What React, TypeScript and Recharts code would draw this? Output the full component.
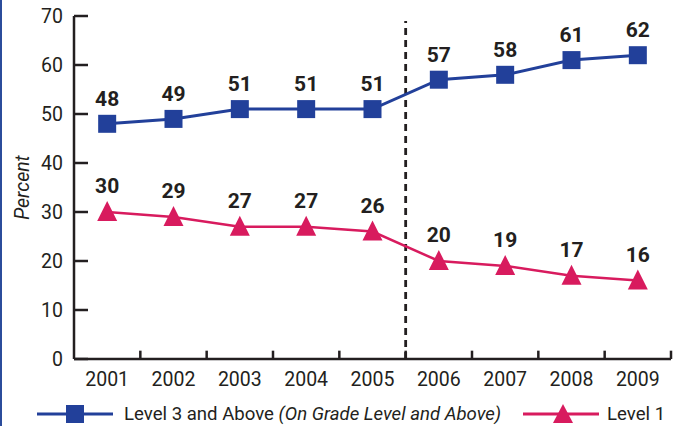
import React from 'react';
import { LineChart, Line, XAxis, YAxis, ReferenceLine, LabelList, Label } from 'recharts';

const YEARS = ['2001', '2002', '2003', '2004', '2005', '2006', '2007', '2008', '2009'];
const LEVEL3 = [48, 49, 51, 51, 51, 57, 58, 61, 62];
const LEVEL1 = [30, 29, 27, 27, 26, 20, 19, 17, 16];
const Y_TICKS = [0, 10, 20, 30, 40, 50, 60, 70];

const BLUE = '#22409a';
const PINK = '#d81b5e';
const INK = '#231f20';
const FONT = "Roboto, 'Noto Sans', sans-serif";

// each year sits in the middle of its band
const data = YEARS.map((year, i) => ({
  pos: i + 0.5,
  year,
  level3: LEVEL3[i],
  level1: LEVEL1[i],
}));

const Square = (props: any) => {
  const { cx, cy } = props;
  if (cx == null || cy == null) return null;
  return <rect x={cx - 9} y={cy - 9} width={18} height={18} fill={BLUE} />;
};

const Triangle = (props: any) => {
  const { cx, cy } = props;
  if (cx == null || cy == null) return null;
  return <path d={`M${cx},${cy - 11} L${cx + 10},${cy + 9} L${cx - 10},${cy + 9} Z`} fill={PINK} />;
};

const labelStyle = { fontSize: 21, fontWeight: 700, fill: INK, fontFamily: FONT };

export default function App() {
  return (
    <div
      style={{
        position: 'absolute',
        left: 0,
        top: 0,
        width: 681,
        height: 426,
        background: '#fff',
        fontFamily: FONT,
        color: INK,
        borderLeft: '2px solid #2b4c9b',
        boxSizing: 'border-box',
        overflow: 'hidden',
      }}
    >
      <div style={{ position: 'absolute', left: -2, top: 0 }}>
        <LineChart width={681} height={426} data={data} margin={{ top: 16, right: 10, bottom: 37, left: 14 }}>
          <XAxis
            type="number"
            dataKey="pos"
            domain={[0, 9]}
            ticks={data.map(d => d.pos)}
            tickFormatter={(v: number) => YEARS[Math.floor(v)]}
            tickLine={false}
            tickMargin={7}
            height={30}
            axisLine={{ stroke: INK, strokeWidth: 2.5 }}
            tick={{ fontSize: 19.5, fill: INK, fontFamily: FONT }}
          />
          <YAxis
            type="number"
            domain={[0, 70]}
            ticks={Y_TICKS}
            width={60}
            tickSize={-14}
            tickMargin={25}
            tickLine={{ stroke: INK, strokeWidth: 2.5 }}
            axisLine={{ stroke: INK, strokeWidth: 2.5 }}
            tick={{ fontSize: 19.5, fill: INK, fontFamily: FONT }}
          >
            <Label
              value="Percent"
              angle={-90}
              position="insideLeft"
              offset={-10}
              dx={18}
              style={{ fontSize: 19.5, fontStyle: 'italic', fill: INK, fontFamily: FONT, textAnchor: 'middle' }}
            />
          </YAxis>
          {/* tick marks on the band edges */}
          {[1, 2, 3, 4, 5, 6, 7, 8, 9].map(b => (
            <ReferenceLine key={b} segment={[{ x: b, y: 0 }, { x: b, y: 1.7 }]} stroke={INK} strokeWidth={2.5} />
          ))}
          <ReferenceLine segment={[{ x: 5, y: 0 }, { x: 5, y: 69 }]} stroke={INK} strokeWidth={2.8} strokeDasharray="7 5" />
          <Line
            dataKey="level3"
            stroke={BLUE}
            strokeWidth={3}
            dot={<Square />}
            activeDot={false}
            isAnimationActive={false}
          >
            <LabelList dataKey="level3" position="top" offset={18} style={labelStyle} />
          </Line>
          <Line
            dataKey="level1"
            stroke={PINK}
            strokeWidth={2.5}
            dot={<Triangle />}
            activeDot={false}
            isAnimationActive={false}
          >
            <LabelList dataKey="level1" position="top" offset={19} style={labelStyle} />
          </Line>
        </LineChart>
      </div>

      {/* legend */}
      <div style={{ position: 'absolute', left: 35, top: 401, height: 26, display: 'flex', alignItems: 'center', fontSize: 18.6, whiteSpace: 'nowrap' }}>
        <svg width={76} height={26}>
          <line x1={0} y1={13} x2={76} y2={13} stroke={BLUE} strokeWidth={3} />
          <rect x={29} y={4} width={18} height={18} fill={BLUE} />
        </svg>
        <span style={{ marginLeft: 11 }}>
          Level 3 and Above <i>(On Grade Level and Above)</i>
        </span>
      </div>
      <div style={{ position: 'absolute', left: 521, top: 401, height: 26, display: 'flex', alignItems: 'center', fontSize: 18.6, whiteSpace: 'nowrap' }}>
        <svg width={76} height={26}>
          <line x1={0} y1={13} x2={76} y2={13} stroke={PINK} strokeWidth={3} />
          <path d="M40,3 L50,22 L30,22 Z" fill={PINK} />
        </svg>
        <span style={{ marginLeft: 8 }}>Level 1</span>
      </div>
    </div>
  );
}
